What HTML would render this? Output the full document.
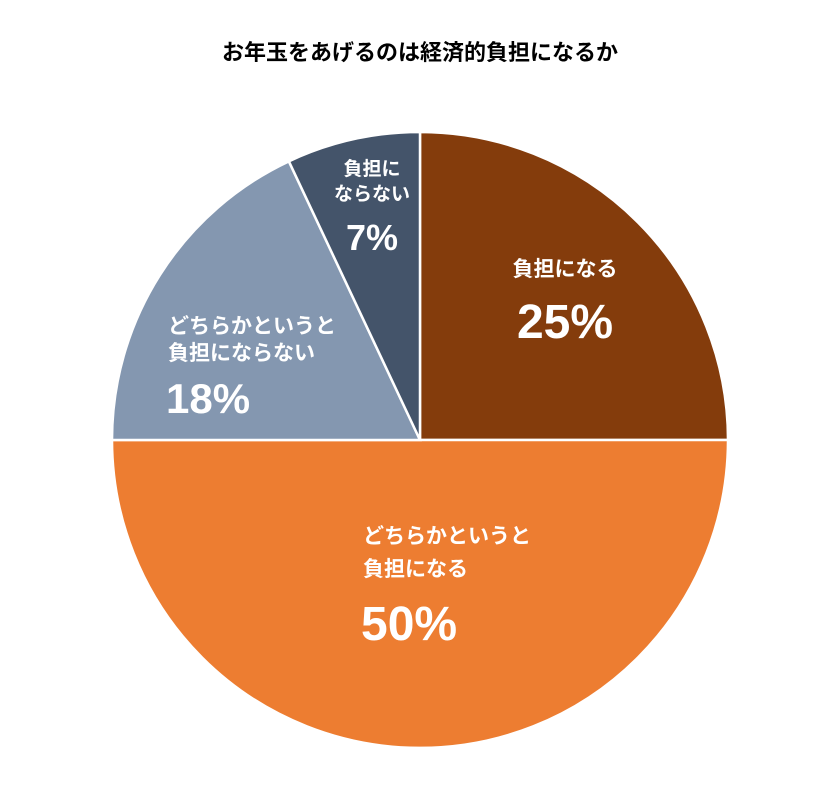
<!DOCTYPE html>
<html><head><meta charset="utf-8"><style>
body{margin:0;background:#fff;}
svg text{font-family:"Liberation Sans","Noto Sans CJK JP",sans-serif;font-weight:bold;fill:#fff;}
</style></head><body>
<svg id="chart" width="840" height="793" viewBox="0 0 840 793">
<text x="420" y="60" text-anchor="middle" style="fill:#000;font-size:22px">お年玉をあげるのは経済的負担になるか</text>
<g id="slices"></g><g id="labels"></g>
</svg>
<script>
const categories=["負担になる","どちらかというと負担になる","どちらかというと負担にならない","負担にならない"];
const values=[25,50,18,7];
const colors=["#843C0C","#ED7D31","#8497B0","#44546A"];
const labelLines=[["負担になる"],["どちらかというと","負担になる"],["どちらかというと","負担にならない"],["負担に","ならない"]];
const cx=420,cy=440,r=308;
const ns="http://www.w3.org/2000/svg";
const total=values.reduce((a,b)=>a+b,0);
// label layout: [x, firstLineY, pctY, anchor, lineFont, pctFont, lineGap]
const layout=[[565,276,338,'middle',21,48,0],[363,543,640,'start',21,48,33],[168,333,413,'start',21,42,27],[372,175,250,'middle',19,36,25]];
function pt(f,rr){const a=f*2*Math.PI-Math.PI/2;return [cx+rr*Math.cos(a),cy+rr*Math.sin(a)];}
const sg=document.getElementById('slices'),lg=document.getElementById('labels');
let acc=0;
values.forEach((v,i)=>{
 const f0=acc/total,f1=(acc+v)/total;acc+=v;
 const p0=pt(f0,r),p1=pt(f1,r);
 const path=document.createElementNS(ns,'path');
 path.setAttribute('d',`M${cx},${cy}L${p0[0]},${p0[1]}A${r},${r} 0 ${f1-f0>0.5?1:0} 1 ${p1[0]},${p1[1]}Z`);
 path.setAttribute('fill',colors[i]);path.setAttribute('stroke','#fff');path.setAttribute('stroke-width','2.5');
 
 
 sg.appendChild(path);
 const [lx,ly,py,anchor,fs,pfs,gap]=layout[i];
 const g=document.createElementNS(ns,'g');
 
 
 labelLines[i].forEach((l,k)=>{const t=document.createElementNS(ns,'text');t.setAttribute('x',lx);t.setAttribute('y',ly+k*gap);t.setAttribute('text-anchor',anchor);t.setAttribute('font-size',fs);t.textContent=l;g.appendChild(t);});
 const t=document.createElementNS(ns,'text');t.setAttribute('x',lx-(anchor==='start'?2:0));t.setAttribute('y',py);t.setAttribute('text-anchor',anchor);t.setAttribute('font-size',pfs);t.textContent=v+'%';g.appendChild(t);
 lg.appendChild(g);
});
</script>
</body></html>
